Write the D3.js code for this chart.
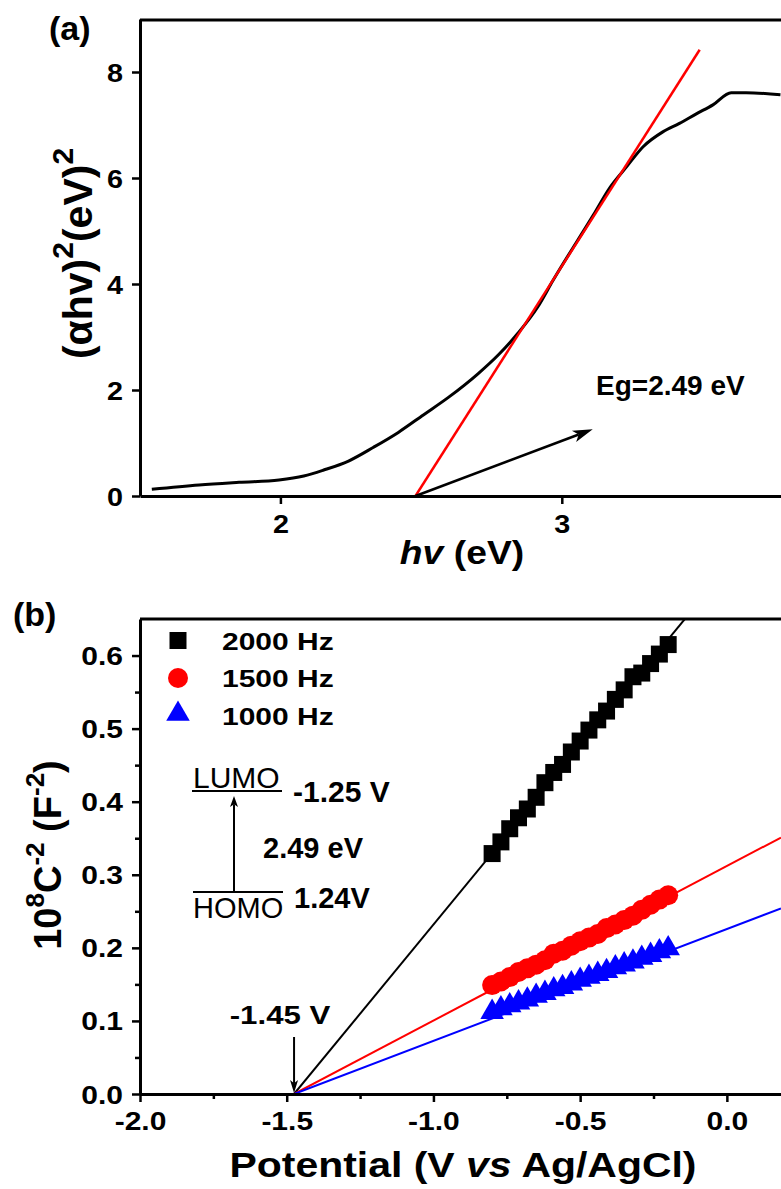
<!DOCTYPE html>
<html>
<head>
<meta charset="utf-8">
<script src="https://cdn.jsdelivr.net/npm/d3@7"></script>
<style>
  body { margin: 0; background: #fff; }
  svg { display: block; }
  text { font-family: "Liberation Sans", Arial, sans-serif; fill: #000; }
</style>
</head>
<body>
<script>
// ---- panel (a): Tauc plot ----
const hvEnergy = [1.543, 1.711, 1.853, 1.995, 2.083, 2.154, 2.242, 2.331, 2.419, 2.508, 2.597, 2.703, 2.774,
  2.844, 2.915, 2.968, 3.112, 3.171, 3.230, 3.289, 3.359, 3.418, 3.478, 3.537, 3.602, 3.655, 3.777];
const tauc = [0.126, 0.208, 0.258, 0.302, 0.377, 0.49, 0.660, 0.92, 1.20, 1.53, 1.86, 2.31, 2.66,
  3.07, 3.57, 4.06, 5.30, 5.82, 6.21, 6.59, 6.87, 7.03, 7.21, 7.38, 7.61, 7.61, 7.57];
const tangentX = [2.48, 3.49];
const tangentY = [0, 8.42];
const egArrowX = [2.48, 3.11];
const egArrowY = [0, 1.26];
const aYTicks = [0, 2, 4, 6, 8];
const aXTicks = [2, 3];

// ---- panel (b): Mott-Schottky ----
const potentials = [-0.80, -0.77, -0.74, -0.71, -0.68, -0.65, -0.62, -0.59, -0.56, -0.53, -0.50,
  -0.47, -0.44, -0.41, -0.38, -0.35, -0.32, -0.29, -0.26, -0.23, -0.20];
const c2000 = [0.329, 0.345, 0.363, 0.378, 0.390, 0.406, 0.426, 0.440, 0.451, 0.468, 0.483,
  0.498, 0.512, 0.524, 0.540, 0.553, 0.571, 0.576, 0.589, 0.602, 0.615];
const c1500 = [0.149, 0.154, 0.160, 0.167, 0.172, 0.177, 0.183, 0.192, 0.196, 0.203, 0.209,
  0.214, 0.219, 0.227, 0.232, 0.238, 0.244, 0.252, 0.259, 0.266, 0.272];
const c1000 = [0.112, 0.117, 0.121, 0.125, 0.129, 0.134, 0.138, 0.143, 0.146, 0.151, 0.156,
  0.160, 0.164, 0.168, 0.173, 0.177, 0.181, 0.186, 0.190, 0.195, 0.199];
const seriesNames = ['2000 Hz', '1500 Hz', '1000 Hz'];
const seriesColors = ['#000000', '#ff0000', '#0000ff'];
const fitIntercept = -1.475;
const fitSlopes = [0.488, 0.2115, 0.153];
const fitEnd = 0.1845;
const bYTicks = [0, 0.1, 0.2, 0.3, 0.4, 0.5, 0.6];
const bYMinor = [0.05, 0.15, 0.25, 0.35, 0.45, 0.55];
const bXTicks = [-2.0, -1.5, -1.0, -0.5, 0.0];
const bXMinor = [-1.75, -1.25, -0.75, -0.25];

const W = 781, H = 1189;
const svg = d3.select('body').append('svg').attr('width', W).attr('height', H);

function txt(g, x, y, s, size, opts = {}) {
  return g.append('text')
    .attr('transform', `translate(${x},${y}) scale(${opts.sx || 1},1)`)
    .attr('font-size', size)
    .attr('font-weight', opts.weight || 'bold')
    .attr('text-anchor', opts.anchor || 'start')
    .text(s);
}

function arrow(g, x0, y0, x1, y1, len, half, sw) {
  const a = Math.atan2(y1 - y0, x1 - x0);
  const c = Math.cos(a), s = Math.sin(a);
  const bx = x1 - len * c, by = y1 - len * s;
  const nx = x1 - len * 0.75 * c, ny = y1 - len * 0.75 * s;
  g.append('line').attr('x1', x0).attr('y1', y0).attr('x2', nx).attr('y2', ny)
    .attr('stroke', '#000').attr('stroke-width', sw);
  g.append('path')
    .attr('d', `M${x1},${y1}L${bx - half * s},${by + half * c}L${nx},${ny}L${bx + half * s},${by - half * c}Z`)
    .attr('fill', '#000');
}

function styleAxis(g, size) {
  g.select('.domain').attr('stroke-width', 3);
  g.selectAll('.tick line').attr('stroke-width', 2.5);
  g.selectAll('.tick text')
    .attr('font-family', null)
    .style('font-size', size + 'px')
    .style('font-weight', 'bold')
    .attr('fill', '#000');
}

// ================= panel (a) =================
const xa = d3.scaleLinear().domain([1.501, 3.779]).range([140, 781]);
const ya = d3.scaleLinear().domain([0, 9]).range([496, 19]);
const ga = svg.append('g');

ga.append('clipPath').attr('id', 'clipA').append('rect')
  .attr('x', 140).attr('y', 19).attr('width', 641).attr('height', 477);

const plotA = ga.append('g').attr('clip-path', 'url(#clipA)');
plotA.append('path')
  .datum(hvEnergy.map((v, i) => [v, tauc[i]]))
  .attr('d', d3.line().x(d => xa(d[0])).y(d => ya(d[1])).curve(d3.curveMonotoneX))
  .attr('fill', 'none').attr('stroke', '#000').attr('stroke-width', 3);
plotA.append('line')
  .attr('x1', xa(tangentX[0])).attr('y1', ya(tangentY[0]))
  .attr('x2', xa(tangentX[1])).attr('y2', ya(tangentY[1]))
  .attr('stroke', '#ff0000').attr('stroke-width', 2.5);

arrow(ga, xa(egArrowX[0]), ya(egArrowY[0]), xa(egArrowX[1]), ya(egArrowY[1]), 20, 6, 2.5);
txt(ga, 596, 395, 'Eg=2.49 eV', 28);

// frame top
ga.append('line').attr('x1', 140).attr('x2', 781).attr('y1', 20).attr('y2', 20)
  .attr('stroke', '#000').attr('stroke-width', 3);

const axAY = ga.append('g').attr('transform', 'translate(140,0)')
  .call(d3.axisLeft(ya).tickValues(aYTicks).tickSize(8).tickSizeOuter(0).tickFormat(d3.format('d')));
styleAxis(axAY, 25);
axAY.selectAll('.tick text').attr('x', -17 / 1.15).attr('dy', '0.36em').attr('transform', 'scale(1.15,1)');

const axAX = ga.append('g').attr('transform', 'translate(0,496)')
  .call(d3.axisBottom(xa).tickValues(aXTicks).tickSize(8).tickSizeOuter(0).tickFormat(d3.format('d')));
styleAxis(axAX, 25);
axAX.selectAll('.tick text').attr('y', 37).attr('dy', 0).attr('transform', 'scale(1.15,1)');

// titles
const tAx = ga.append('text').attr('transform', 'translate(462,564) scale(1.13,1)')
  .attr('text-anchor', 'middle').attr('font-size', 33).attr('font-weight', 'bold');
tAx.append('tspan').attr('font-style', 'italic').text('hv');
tAx.append('tspan').text(' (eV)');

const tAy = ga.append('text').attr('transform', 'translate(92,253.5) rotate(-90)')
  .attr('text-anchor', 'middle').attr('font-size', 41).attr('font-weight', 'bold');
tAy.append('tspan').text('(αhv)');
tAy.append('tspan').attr('font-size', 30).attr('dy', -19).text('2');
tAy.append('tspan').attr('dy', 19).text('(eV)');
tAy.append('tspan').attr('font-size', 30).attr('dy', -19).text('2');

txt(ga, 49, 40, '(a)', 34);

// ================= panel (b) =================
const xb = d3.scaleLinear().domain([-2, 0.1845]).range([140, 781]);
const yb = d3.scaleLinear().domain([0, 0.65]).range([1094, 619]);
const gb = svg.append('g');

gb.append('clipPath').attr('id', 'clipB').append('rect')
  .attr('x', 140).attr('y', 619).attr('width', 641).attr('height', 475);
const plotB = gb.append('g').attr('clip-path', 'url(#clipB)');

fitSlopes.forEach((k, i) => {
  plotB.append('line')
    .attr('x1', xb(fitIntercept)).attr('y1', yb(0))
    .attr('x2', xb(fitEnd)).attr('y2', yb(k * (fitEnd - fitIntercept)))
    .attr('stroke', seriesColors[i]).attr('stroke-width', 2);
});

const symbols = [
  d3.symbol().type(d3.symbolSquare).size(289),
  d3.symbol().type(d3.symbolCircle).size(314),
  d3.symbol().type(d3.symbolTriangle).size(240)
];
[c2000, c1500, c1000].forEach((vals, i) => {
  plotB.append('g').selectAll('path')
    .data(vals)
    .enter()
    .append('path')
    .attr('d', symbols[i])
    .attr('transform', (d, j) => `translate(${xb(potentials[j])},${yb(d)})`)
    .attr('fill', seriesColors[i]);
});

// frame top
gb.append('line').attr('x1', 140).attr('x2', 781).attr('y1', 619).attr('y2', 619)
  .attr('stroke', '#000').attr('stroke-width', 3);

const axBYm = gb.append('g').attr('transform', 'translate(140,0)')
  .call(d3.axisLeft(yb).tickValues(bYMinor).tickSize(5).tickSizeOuter(0).tickFormat(''));
axBYm.select('.domain').remove();
axBYm.selectAll('.tick line').attr('stroke-width', 2.5);
const axBXm = gb.append('g').attr('transform', 'translate(0,1094)')
  .call(d3.axisBottom(xb).tickValues(bXMinor).tickSize(5).tickSizeOuter(0).tickFormat(''));
axBXm.select('.domain').remove();
axBXm.selectAll('.tick line').attr('stroke-width', 2.5);

const fmt1 = d => d3.format('.1f')(d).replace('−', '-');
const axBY = gb.append('g').attr('transform', 'translate(140,0)')
  .call(d3.axisLeft(yb).tickValues(bYTicks).tickSize(8).tickSizeOuter(0).tickFormat(fmt1));
styleAxis(axBY, 25);
axBY.selectAll('.tick text').attr('x', -17 / 1.2).attr('dy', '0.36em').attr('transform', 'scale(1.2,1)');

const axBX = gb.append('g').attr('transform', 'translate(0,1094)')
  .call(d3.axisBottom(xb).tickValues(bXTicks).tickSize(8).tickSizeOuter(0).tickFormat(fmt1));
styleAxis(axBX, 25);
axBX.selectAll('.tick text').attr('y', 36).attr('dy', 0).attr('transform', 'scale(1.2,1)');

// legend
const legY = [640.5, 678, 714];
const legBase = [650, 687, 725];
seriesNames.forEach((name, i) => {
  gb.append('path').attr('d', symbols[i]).attr('transform', `translate(178,${legY[i]})`)
    .attr('fill', seriesColors[i]);
  txt(gb, 222, legBase[i], name, 24, { sx: 1.25 });
});

// band diagram inset
txt(gb, 193, 788, 'LUMO', 30, { weight: 'normal' });
gb.append('line').attr('x1', 192).attr('x2', 282).attr('y1', 791).attr('y2', 791)
  .attr('stroke', '#000').attr('stroke-width', 2);
txt(gb, 293, 802, '-1.25 V', 30);
arrow(gb, 234, 892, 234, 796, 11, 4, 2);
txt(gb, 263, 858, '2.49 eV', 29);
gb.append('line').attr('x1', 193).attr('x2', 283).attr('y1', 892).attr('y2', 892)
  .attr('stroke', '#000').attr('stroke-width', 2);
txt(gb, 193, 918, 'HOMO', 29, { weight: 'normal' });
txt(gb, 294, 908, '1.24V', 29);

// flat-band potential marker
txt(gb, 280, 1024, '-1.45 V', 26, { sx: 1.2, anchor: 'middle' });
arrow(gb, xb(fitIntercept), 1037, xb(fitIntercept), yb(0) - 1, 13, 4, 2);

// titles
const tBx = gb.append('text').attr('transform', 'translate(463,1177) scale(1.17,1)')
  .attr('text-anchor', 'middle').attr('font-size', 35).attr('font-weight', 'bold');
tBx.append('tspan').text('Potential (V ');
tBx.append('tspan').attr('font-style', 'italic').text('vs');
tBx.append('tspan').text(' Ag/AgCl)');

const tBy = gb.append('text').attr('transform', 'translate(61,855) rotate(-90)')
  .attr('text-anchor', 'middle').attr('font-size', 38).attr('font-weight', 'bold');
tBy.append('tspan').text('10');
tBy.append('tspan').attr('font-size', 26).attr('dy', -17).text('8');
tBy.append('tspan').attr('dy', 17).text('C');
tBy.append('tspan').attr('font-size', 26).attr('dy', -17).text('-2');
tBy.append('tspan').attr('dy', 17).text(' (F');
tBy.append('tspan').attr('font-size', 26).attr('dy', -17).text('-2');
tBy.append('tspan').attr('dy', 17).text(')');

txt(gb, 13, 626, '(b)', 34);
</script>
</body>
</html>
